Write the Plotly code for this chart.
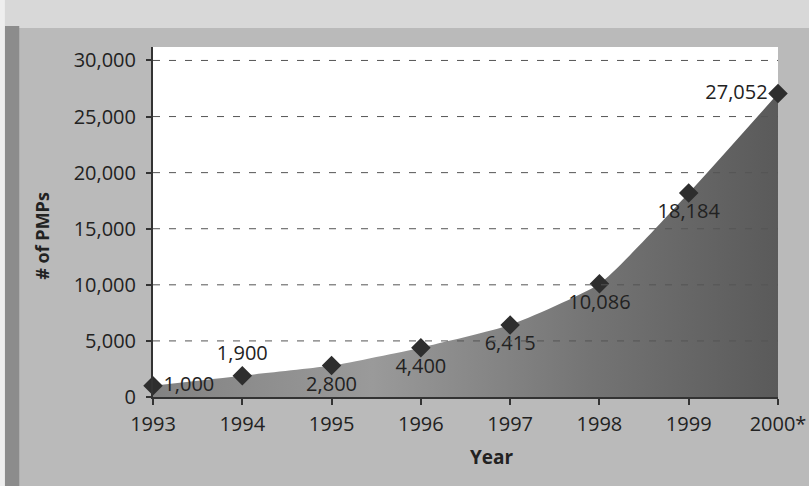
import plotly.graph_objects as go

# ---- data ----
years = [1993, 1994, 1995, 1996, 1997, 1998, 1999, 2000]
year_labels = ["1993", "1994", "1995", "1996", "1997", "1998", "1999", "2000*"]
pmps = [1000, 1900, 2800, 4400, 6415, 10086, 18184, 27052]
label_positions = ["middle right", "top center", "bottom center", "bottom center",
                   "bottom center", "bottom center", "bottom center", "middle left"]
y_ticks = [0, 5000, 10000, 15000, 20000, 25000, 30000]

FONT = "Open Sans"
TXT = "#222222"

fig = go.Figure()

# shaded area under the curve
fig.add_trace(go.Scatter(
    x=years, y=pmps, mode="lines",
    line=dict(width=0, shape="spline", smoothing=0.5),
    fill="tozeroy",
    fillgradient=dict(type="horizontal",
                      colorscale=[[0, "#828282"], [0.35, "#9a9a9a"],
                                  [0.7, "#747474"], [1, "#5a5a5a"]]),
    hoverinfo="skip", showlegend=False,
))

# markers + value labels
fig.add_trace(go.Scatter(
    x=years, y=pmps, mode="markers+text",
    text=[f"{v:,}" for v in pmps],
    textposition=label_positions,
    textfont=dict(family=FONT, size=20, color=TXT),
    marker=dict(symbol="diamond", size=15, color="#2e2e2e"),
    cliponaxis=False, showlegend=False,
))

shapes = []
# decorative paper bands (paper coords relative to plot area)
shapes.append(dict(type="rect", xref="paper", yref="paper",
                   x0=-0.26, x1=1.06, y0=1.054, y1=1.14,
                   fillcolor="#d8d8d8", line=dict(width=0), layer="below"))
shapes.append(dict(type="rect", xref="paper", yref="paper",
                   x0=-0.237, x1=-0.214, y0=-0.26, y1=1.06,
                   fillcolor="#8c8c8c", line=dict(width=0), layer="below"))
shapes.append(dict(type="rect", xref="paper", yref="paper",
                   x0=-0.26, x1=-0.237, y0=-0.26, y1=1.14,
                   fillcolor="#eeeeee", line=dict(width=0), layer="below"))
# dashed gridlines drawn above the area
for t in y_ticks[1:]:
    shapes.append(dict(type="line", xref="paper", yref="y",
                       x0=0, x1=1, y0=t, y1=t,
                       line=dict(color="#555555", width=1, dash="7px,9px"),
                       layer="above"))

fig.update_layout(
    width=809, height=486,
    margin=dict(l=153, r=31, t=47, b=89, autoexpand=False),
    paper_bgcolor="#bababa",
    plot_bgcolor="#ffffff",
    font=dict(family=FONT, color=TXT),
    shapes=shapes,
    showlegend=False,
    xaxis=dict(range=[1993, 2000], tickvals=years, ticktext=year_labels,
               ticks="outside", ticklen=6, tickcolor="#333333", tickwidth=2,
               showline=True, linecolor="#333333", linewidth=2,
               showgrid=False, zeroline=False, automargin=False,
               tickfont=dict(family=FONT, size=20, color=TXT),
               ticklabelstandoff=2),
    yaxis=dict(range=[0, 31200], tickvals=y_ticks, tickformat=",",
               ticks="outside", ticklen=5, tickcolor="#333333", tickwidth=2,
               showline=True, linecolor="#333333", linewidth=2,
               showgrid=False, zeroline=False, automargin=False,
               tickfont=dict(family=FONT, size=20, color=TXT),
               ticklabelstandoff=6),
    annotations=[
        dict(text="<b>Year</b>", xref="paper", yref="paper", x=0.542, y=-0.171,
             xanchor="center", yanchor="middle",
             showarrow=False, font=dict(family=FONT, size=19, color=TXT)),
        dict(text="<b># of PMPs</b>", xref="paper", yref="paper", x=-0.178, y=0.46,
             xanchor="center", yanchor="middle",
             textangle=-90, showarrow=False, font=dict(family=FONT, size=18, color=TXT)),
    ],
)

fig.write_html("out.html")
